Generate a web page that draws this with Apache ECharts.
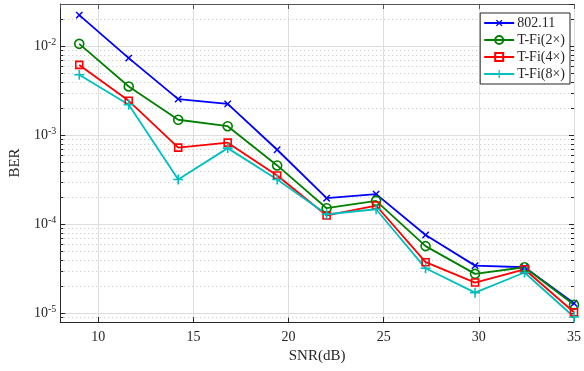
<!DOCTYPE html>
<html>
<head>
<meta charset="utf-8">
<script src="https://cdn.jsdelivr.net/npm/echarts@6/dist/echarts.min.js"></script>
<style>
    html, body { margin: 0; padding: 0; background: #fff; }
    #chart { width: 584px; height: 371px; }
</style>
</head>
<body>
<div id="chart"></div>
<script>
// SNR points (dB)
const snr = [9, 11.6, 14.2, 16.8, 19.4, 22, 24.6, 27.2, 29.8, 32.4, 35];
// BER per scheme
const ber80211 = [2.25e-2, 7.4e-3, 2.56e-3, 2.26e-3, 6.9e-4, 1.97e-4, 2.19e-4, 7.6e-5, 3.44e-5, 3.3e-5, 1.3e-5];
const berTFi2 = [1.07e-2, 3.55e-3, 1.5e-3, 1.27e-3, 4.6e-4, 1.52e-4, 1.84e-4, 5.7e-5, 2.78e-5, 3.3e-5, 1.25e-5];
const berTFi4 = [6.2e-3, 2.45e-3, 7.3e-4, 8.3e-4, 3.54e-4, 1.26e-4, 1.63e-4, 3.76e-5, 2.22e-5, 3.13e-5, 1.03e-5];
const berTFi8 = [4.8e-3, 2.21e-3, 3.2e-4, 7.2e-4, 3.2e-4, 1.3e-4, 1.48e-4, 3.21e-5, 1.71e-5, 2.88e-5, 9.1e-6];
const seriesNames = ['802.11', 'T-Fi(2\u00d7)', 'T-Fi(4\u00d7)', 'T-Fi(8\u00d7)'];

const X_MIN = 8;
const X_MAX = 35;
const Y_MIN = 8e-6;
const Y_MAX = 3e-2;
const FONT = 'Liberation Serif';
const TEXT = '#262626';
// minor tick length, in x units (~3px)
const MINOR_TICK = 0.16;

// dotted minor grid + small inside ticks at 2..9 x 10^k
const minorSteps = [2, 3, 4, 5, 6, 7, 8, 9];
const decades = [-6, -5, -4, -3, -2];
const minorGrid = [];
decades.forEach(d => {
    minorSteps.forEach(s => {
        const v = s * Math.pow(10, d);
        if (v > Y_MIN * 1.001 && v < Y_MAX * 0.999) {
            minorGrid.push([{ coord: [X_MIN, v] }, { coord: [X_MAX, v] }]);
            const tickStyle = { type: 'solid', color: TEXT, width: 1 };
            minorGrid.push([{ coord: [X_MIN, v], lineStyle: tickStyle }, { coord: [X_MIN + MINOR_TICK, v] }]);
            minorGrid.push([{ coord: [X_MAX - MINOR_TICK, v], lineStyle: tickStyle }, { coord: [X_MAX, v] }]);
        }
    });
});

const PLUS = 'path://M4.2,0H5.8V4.2H10V5.8H5.8V10H4.2V5.8H0V4.2H4.2Z';

function makeSerie(name, values, color, marker) {
    return {
        name: name,
        type: 'line',
        xAxisIndex: 0,
        yAxisIndex: 0,
        data: snr.map((x, i) => [x, values[i]]),
        lineStyle: { color: color, width: 1.8 },
        symbol: marker.symbol,
        symbolSize: marker.size,
        symbolRotate: marker.rotate || 0,
        itemStyle: marker.hollow
            ? { color: 'transparent', borderColor: color, borderWidth: 1.6 }
            : { color: color, borderWidth: 0 },
        emphasis: { disabled: true },
        z: 3,
        animation: false,
    };
}

const chart = echarts.init(document.getElementById('chart'), null, { renderer: 'canvas' });

const logAxisCommon = {
    type: 'log',
    logBase: 10,
    min: Y_MIN,
    max: Y_MAX,
};

const series = [
    makeSerie(seriesNames[0], ber80211, '#0000ff', { symbol: PLUS, size: 9, rotate: 45 }),
    makeSerie(seriesNames[1], berTFi2, '#008000', { symbol: 'circle', size: 9, hollow: true }),
    makeSerie(seriesNames[2], berTFi4, '#ff0000', { symbol: 'rect', size: 7, hollow: true }),
    makeSerie(seriesNames[3], berTFi8, '#00bfbf', { symbol: PLUS, size: 10 }),
];
// minor grid rides on the first series, drawn under the lines
series[0].markLine = {
    silent: true,
    z: 1,
    symbol: 'none',
    label: { show: false },
    lineStyle: { type: [1, 3], color: '#c4c4c4', width: 1 },
    emphasis: { disabled: true },
    animation: false,
    data: minorGrid,
};

const option = {
    animation: false,
    backgroundColor: '#fff',
    textStyle: { fontFamily: FONT, color: TEXT },
    grid: { left: 58, top: 4, right: 6, bottom: 49, containLabel: false },
    legend: {
        data: seriesNames,
        orient: 'vertical',
        right: 14,
        top: 13,
        backgroundColor: '#fff',
        borderColor: '#262626',
        borderWidth: 1,
        borderRadius: 0,
        padding: [3, 5, 3, 3],
        itemGap: 3,
        itemWidth: 30,
        itemHeight: 10,
        textStyle: { fontFamily: FONT, fontSize: 14, color: TEXT, padding: [0, 0, 0, -2] },
    },
    xAxis: [
        {
            type: 'value',
            min: X_MIN,
            max: X_MAX,
            name: 'SNR(dB)',
            nameLocation: 'middle',
            nameGap: 26,
            nameTextStyle: { fontFamily: FONT, fontSize: 15, color: TEXT },
            axisLine: { lineStyle: { color: TEXT, width: 1 } },
            axisTick: { inside: true, length: 5, lineStyle: { color: TEXT } },
            axisLabel: { showMinLabel: false, margin: 8, fontFamily: FONT, fontSize: 14, color: TEXT },
            splitLine: { show: true, lineStyle: { color: '#dedede', width: 1 } },
        },
        {
            type: 'value',
            position: 'top',
            min: X_MIN,
            max: X_MAX,
            axisLine: { show: true, lineStyle: { color: '#555', width: 1 } },
            axisTick: { inside: true, length: 5, lineStyle: { color: '#555' } },
            axisLabel: { show: false },
            splitLine: { show: false },
        },
    ],
    yAxis: [
        Object.assign({}, logAxisCommon, {
            position: 'left',
            name: 'BER',
            nameLocation: 'middle',
            nameGap: 36,
            nameTextStyle: { fontFamily: FONT, fontSize: 15, color: TEXT },
            axisLine: { show: true, lineStyle: { color: TEXT, width: 1 } },
            axisTick: { inside: true, length: 5, lineStyle: { color: TEXT } },
            axisLabel: {
                showMinLabel: false,
                showMaxLabel: false,
                margin: 4,
                formatter: v => '{b|10}{s|' + Math.round(Math.log10(v)) + '}',
                rich: {
                    b: { fontFamily: FONT, fontSize: 14, color: TEXT },
                    s: { fontFamily: FONT, fontSize: 10, color: TEXT, padding: [0, 0, 9, 0] },
                },
            },
            splitLine: { show: true, lineStyle: { color: '#dedede', width: 1 } },
        }),
        Object.assign({}, logAxisCommon, {
            position: 'right',
            axisLine: { show: false },
            axisTick: { inside: true, length: 5, lineStyle: { color: TEXT } },
            axisLabel: { show: false },
            splitLine: { show: false },
        }),
    ],
    series: series,
};

chart.setOption(option);
</script>
</body>
</html>
